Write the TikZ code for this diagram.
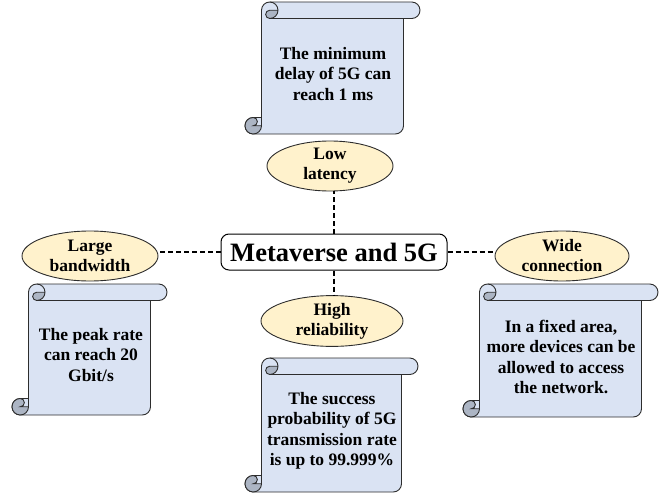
\documentclass[tikz,border=0pt]{standalone}
\usepackage{fontspec}
\setmainfont{Liberation Serif}
\usetikzlibrary{shapes.geometric,calc}

\definecolor{scrollfill}{RGB}{218,227,243}
\definecolor{scrolldark}{RGB}{172,181,196}
\definecolor{tagfill}{RGB}{255,242,204}
\definecolor{edgegray}{RGB}{45,45,45}

% scroll between (x0,y0) and (x1,y1), y going down
\newcommand{\drawscroll}[4]{%
  \pgfmathsetmacro{\scrW}{#3-#1}
  \pgfmathsetmacro{\scrH}{#4-#2}
  \begin{scope}[shift={(#1,#2)},draw=edgegray,line width=0.9pt]
    \def\rA{16.5}\def\rB{8.25}\def\rC{4.125}
    \draw[fill=scrollfill] (\rA,\scrH-\rA) -- (\rA,\rB)
      arc[start angle=180,delta angle=90,radius=\rB] -- (\scrW-\rB,0)
      arc[start angle=270,delta angle=180,radius=\rB] -- (\scrW-\rA,\rA)
      -- (\scrW-\rA,\scrH-\rB) arc[start angle=0,delta angle=90,radius=\rB]
      -- (\rB,\scrH) arc[start angle=90,delta angle=180,radius=\rB] -- cycle;
    \fill[scrolldark] (2*\rA,\rB) arc[start angle=0,delta angle=90,radius=\rB]
      arc[start angle=90,delta angle=180,radius=\rC] -- cycle;
    \fill[scrolldark] (\rA,\scrH-\rB) arc[start angle=0,delta angle=270,radius=\rB]
      arc[start angle=270,delta angle=180,radius=\rC] -- cycle;
    \draw (\rA,\scrH-\rB) arc[start angle=0,delta angle=270,radius=\rB];
    \draw (1.5*\rA,0) arc[start angle=270,delta angle=180,radius=\rB]
      arc[start angle=90,delta angle=180,radius=\rC] -- (2*\rA,\rB);
    \draw (\scrW-\rA,\rA) -- (1.5*\rA,\rA);
    \draw (\rB,\scrH-\rA) arc[start angle=270,delta angle=180,radius=\rC] -- (\rA,\scrH-\rB);
    \draw (\rA,\scrH-\rB) -- (\rA,\scrH-\rA);
  \end{scope}}

\tikzset{
  scrolltext/.style={font=\bfseries\fontsize{17.5}{20.5}\selectfont, align=center, inner sep=0pt},
  tag/.style={ellipse, draw=edgegray, fill=tagfill, line width=0.9pt, minimum height=50pt,
    inner sep=0pt, font=\bfseries\fontsize{17.5}{20}\selectfont, align=center},
  hub/.style={draw=black, rounded corners=8pt, fill=white, line width=1pt, minimum height=36pt,
    minimum width=226pt, inner sep=0pt, font=\bfseries\fontsize{26.5}{30}\selectfont},
  link/.style={dash pattern=on 5pt off 3pt, line width=1.2pt}
}

\begin{document}
\begin{tikzpicture}[x=1pt,y=-1pt]
  \useasboundingbox (0,0) rectangle (672,495);

  % scrolls
  \drawscroll{245}{2}{420}{134}
  \drawscroll{12}{284}{167}{415}
  \drawscroll{245}{358}{418}{492}
  \drawscroll{463}{284}{658}{417}

  \node[scrolltext] (sdelay) at (333,74) {The minimum\\delay of 5G can\\reach 1 ms};
  \node[scrolltext] (srate) at (91,355) {The peak rate\\can reach 20\\Gbit/s};
  \node[scrolltext] (sprob) at (332,431) {The success\\probability of 5G\\transmission rate\\is up to 99.999\%};
  \node[scrolltext] (sarea) at (561,357) {In a fixed area,\\more devices can be\\allowed to access\\the network.};

  % labels
  \node[tag, minimum width=126pt] (lat) at (330,166) {Low\\latency};
  \node[tag, minimum width=136pt] (band) at (90,256) {Large\\bandwidth};
  \node[tag, minimum width=134pt] (conn) at (562,256) {Wide\\connection};
  \node[tag, minimum width=142pt] (rel) at (332,321) {High\\reliability};

  \node[hub] (mv) at (334,252) {Metaverse and 5G};

  \draw[link] (mv.north) -- (mv.north |- lat.south);
  \draw[link] (mv.south) -- (mv.south |- rel.north);
  \draw[link] (mv.west) -- (mv.west -| band.east);
  \draw[link] (mv.east) -- (mv.east -| conn.west);
\end{tikzpicture}
\end{document}
